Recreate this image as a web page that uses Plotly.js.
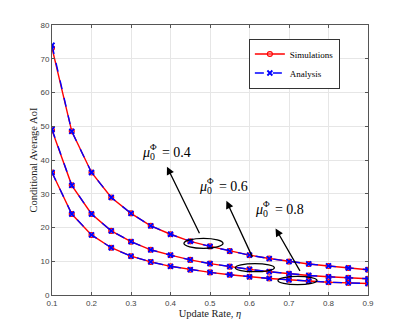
<!DOCTYPE html>
<html>
<head>
<meta charset="utf-8">
<script src="https://cdn.plot.ly/plotly-3.0.1.min.js"></script>
<style>
  body { margin: 0; background: white; }
  #aoi { width: 407px; height: 331px; }
</style>
</head>
<body>
<div id="aoi"></div>
<script>
// update rate eta
var eta = [0.1, 0.15, 0.2, 0.25, 0.3, 0.35, 0.4, 0.45, 0.5, 0.55, 0.6, 0.65, 0.7, 0.75, 0.8, 0.85, 0.9];

// simulations, one array per mu_0^Phi
var sim04 = [73.2, 48.5, 36.3, 28.9, 24.2, 20.5, 18.0, 15.9, 14.4, 13.0, 11.8, 10.8, 9.9, 9.2, 8.6, 8.0, 7.5];
var sim06 = [48.8, 32.5, 24.0, 19.0, 15.8, 13.4, 11.8, 10.4, 9.3, 8.4, 7.6, 6.9, 6.3, 5.8, 5.4, 5.1, 4.8];
var sim08 = [36.3, 24.0, 17.8, 14.0, 11.5, 9.8, 8.5, 7.5, 6.7, 6.0, 5.4, 4.9, 4.5, 4.1, 3.8, 3.6, 3.4];

// analysis
var ana04 = [74.0, 48.5, 36.3, 28.9, 24.2, 20.5, 18.0, 15.9, 14.4, 13.0, 11.8, 10.8, 9.9, 9.2, 8.6, 8.0, 7.5];
var ana06 = [49.1, 32.5, 24.0, 19.0, 15.8, 13.4, 11.8, 10.4, 9.3, 8.4, 7.6, 6.9, 6.3, 5.8, 5.4, 5.1, 4.8];
var ana08 = [36.3, 24.0, 17.8, 14.0, 11.5, 9.8, 8.5, 7.5, 6.7, 6.0, 5.4, 4.9, 4.5, 4.1, 3.8, 3.6, 3.4];

var muLabels = ['0.4', '0.6', '0.8'];

var serif = 'Liberation Serif, Times New Roman, serif';

function simTrace(y, first) {
  return {
    x: eta, y: y, type: 'scatter', mode: 'lines+markers',
    name: 'Simulations', legendgroup: 'sim', showlegend: first,
    line: { color: 'red', width: 1.4 },
    marker: { symbol: 'circle', size: 5, color: 'rgba(255,110,110,0.55)', line: { color: 'red', width: 1.1 } }
  };
}
function anaTrace(y, first) {
  return {
    x: eta, y: y, type: 'scatter', mode: 'lines+markers',
    name: 'Analysis', legendgroup: 'ana', showlegend: first,
    line: { color: 'blue', width: 1.4, dash: 'dash' },
    marker: { symbol: 'x-thin-open', size: 5, color: 'blue', line: { color: 'blue', width: 1.8 } }
  };
}

var data = [
  simTrace(sim04, true), simTrace(sim06, false), simTrace(sim08, false),
  anaTrace(ana04, true), anaTrace(ana06, false), anaTrace(ana08, false)
];

// ellipses around curves
var ell = [
  [0.434, 0.533, 13.8, 16.8],
  [0.564, 0.663, 6.9, 9.3],
  [0.672, 0.771, 3.1, 5.5]
];
var shapes = ell.map(function (e) {
  return { type: 'circle', xref: 'x', yref: 'y', x0: e[0], x1: e[1], y0: e[2], y1: e[3],
           line: { color: 'black', width: 1.3 } };
});

// arrows: head near label, tail at ellipse
var heads = [[0.391, 38.0], [0.5415, 27.9], [0.666, 19.7]];
var tails = [[0.4796, 16.8], [0.6135, 9.7], [0.734, 5.85]];
// left edge of each label
var labelPos = [[0.3226, 42.0], [0.4677, 32.0], [0.6094, 25.1]];

var annotations = [];
for (var i = 0; i < 3; i++) {
  annotations.push({
    x: heads[i][0], y: heads[i][1], xref: 'x', yref: 'y',
    ax: tails[i][0], ay: tails[i][1], axref: 'x', ayref: 'y',
    text: ' ', showarrow: true, arrowhead: 2, arrowsize: 1.2, arrowwidth: 1.3, arrowcolor: 'black'
  });
  annotations.push({
    x: labelPos[i][0], y: labelPos[i][1], xref: 'x', yref: 'y', xanchor: 'left',
    text: '<i>μ</i><sub>0</sub>  = ' + muLabels[i],
    showarrow: false, font: { family: serif, size: 14, color: 'black' }
  });
  // superscript stacked over the subscript
  annotations.push({
    x: labelPos[i][0], y: labelPos[i][1], xref: 'x', yref: 'y', xanchor: 'left',
    xshift: 8, yshift: 6,
    text: 'Φ',
    showarrow: false, font: { family: serif, size: 9, color: 'black' }
  });
}

var layout = {
  width: 407, height: 331,
  margin: { l: 52, r: 39, t: 25, b: 36 },
  paper_bgcolor: 'white', plot_bgcolor: 'white',
  font: { family: 'Liberation Sans, Arial, sans-serif', size: 8, color: '#444' },
  showlegend: true,
  legend: {
    x: 0.623, y: 0.95, xanchor: 'left', yanchor: 'top',
    bgcolor: 'white', bordercolor: '#333', borderwidth: 1,
    font: { family: serif, size: 9, color: 'black' },
    tracegroupgap: 0
  },
  xaxis: {
    range: [0.1, 0.9], dtick: 0.1, tick0: 0.1,
    showgrid: true, gridcolor: '#e6e6e6', zeroline: false,
    showline: true, linecolor: '#555', linewidth: 1, mirror: 'ticks',
    ticks: 'inside', ticklen: 3, tickcolor: '#555',
    automargin: true,
    title: { text: 'Update Rate, <i>η</i>', font: { family: serif, size: 10.5, color: '#222' }, standoff: 1 }
  },
  yaxis: {
    range: [0, 80], dtick: 10,
    showgrid: true, gridcolor: '#e6e6e6', zeroline: false,
    showline: true, linecolor: '#555', linewidth: 1, mirror: 'ticks',
    ticks: 'inside', ticklen: 3, tickcolor: '#555',
    automargin: true,
    title: { text: 'Conditional Average AoI', font: { family: serif, size: 10.5, color: '#222' }, standoff: 0 }
  },
  shapes: shapes,
  annotations: annotations
};

Plotly.newPlot('aoi', data, layout, { displayModeBar: false });
</script>
</body>
</html>
